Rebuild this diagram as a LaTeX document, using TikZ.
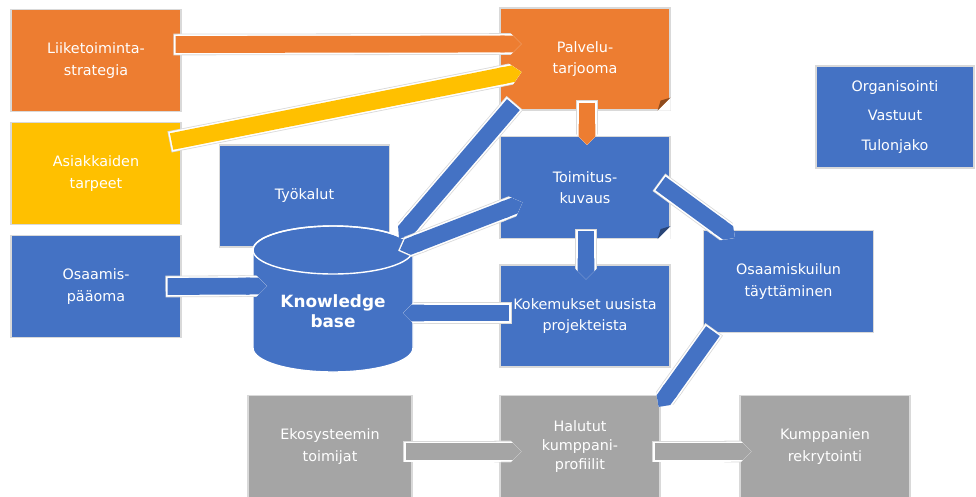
\documentclass[tikz,border=0pt]{standalone}
\usepackage{fontspec}
\usepackage{tikz}
\usetikzlibrary{positioning,
        shapes,
        arrows.meta}
\usepackage{xcolor}
\newfontfamily\boxfont{DejaVu Sans}
\definecolor{orangeC}{HTML}{ED7D31}
\definecolor{yellowC}{HTML}{FFC000}
\definecolor{blueC}{HTML}{4472C4}
\definecolor{greyC}{HTML}{A5A5A5}

\begin{document}
\begin{tikzpicture}[x=0.025cm, y=-0.025cm,
        box/.style={rectangle, draw=black!15, line width=0.8pt, minimum width=4.25cm, minimum height=2.55cm,
                text=white, align=center, font=\boxfont\fontsize{10.2}{15}\selectfont},
        barrow/.style={line width=0.42cm, -{Triangle Cap},
                preaction={draw=black!15, line width=0.54cm, shorten <=-1.5pt},
                preaction={draw=white, line width=0.50cm, shorten <=-1pt}}]
        \useasboundingbox (0,0) rectangle (976,496);

        \node [box, fill=orangeC] (liike) at (96,60.5) {Liiketoiminta-\\strategia};
        \node [box, fill=yellowC] (asiak) at (96,173.5) {Asiakkaiden\\tarpeet};
        \node [box, fill=blueC] (osaam) at (96,286.5) {Osaamis-\\pääoma};
        \node [box, fill=blueC] (tyoka) at (304.5,196) {Työkalut};

        \node [box, fill=orangeC] (palv) at (585,59) {Palvelu-\\tarjooma};
        \node [box, fill=blueC] (toim) at (585,187.5) {Toimitus-\\kuvaus};
        \node [box, fill=blueC] (koke) at (585,316) {Kokemukset uusista\\projekteista};
        \node [box, fill=blueC] (kuil) at (788.5,281.5) {Osaamiskuilun\\täyttäminen};
        \node [box, fill=blueC, minimum width=3.95cm] (organ) at (895,117) {Organisointi\\[6pt]Vastuut\\[6pt]Tulonjako};

        \node [box, fill=greyC, minimum width=4.1cm] (ekos) at (330,446.5) {Ekosysteemin\\toimijat};
        \node [box, fill=greyC, minimum width=4cm, font=\boxfont\fontsize{10.2}{13.5}\selectfont] (halu) at (580,446.5) {Halutut\\kumppani-\\profiilit};
        \node [box, fill=greyC] (kump) at (825,446.5) {Kumppanien\\rekrytointi};

        % folded corners
        \fill[white] ([shift={(-13,0)}]palv.south east) -- ([shift={(0,-13)}]palv.south east) -- (palv.south east) -- cycle;
        \fill[orangeC!60!black] ([shift={(-13,0)}]palv.south east) -- ([shift={(0,-13)}]palv.south east) -- ([shift={(-10,-10)}]palv.south east) -- cycle;
        \fill[white] ([shift={(-13,0)}]toim.south east) -- ([shift={(0,-13)}]toim.south east) -- (toim.south east) -- cycle;
        \fill[blueC!60!black] ([shift={(-13,0)}]toim.south east) -- ([shift={(0,-13)}]toim.south east) -- ([shift={(-10,-10)}]toim.south east) -- cycle;

        % knowledge base cylinder
        \filldraw[fill=blueC, draw=white, line width=1pt] (253,250) -- (253,348)
                arc[start angle=180, end angle=0, x radius=80, y radius=24] -- (413,250)
                arc[start angle=0, end angle=-180, x radius=80, y radius=24] -- cycle;
        \draw[white, line width=1pt] (333,250) ellipse[x radius=80, y radius=24];
        \node [text=white, align=center, font=\boxfont\bfseries\fontsize{12}{14}\selectfont] (kb) at (333,311) {Knowledge\\base};

        \draw[barrow, orangeC] ([shift={(-6,-16)}]liike.east) -- ([shift={(22,-15)}]palv.west);
        \draw[barrow, yellowC] ([shift={(-10,-32)}]asiak.east) -- ([shift={(22,13)}]palv.west);
        \draw[barrow, blueC] ([shift={(14,-6)}]palv.south west) -- ([shift={(66,-73)}]kb.center);
        \draw[barrow, blueC, {Triangle Cap}-{Triangle Cap}] ([shift={(67,-61)}]kb.center) -- ([shift={(23,15)}]toim.west);
        \draw[barrow, orangeC] ([shift={(2,-8)}]palv.south) -- ([shift={(2,9)}]toim.north);
        \draw[barrow, blueC] ([shift={(1,-8)}]toim.south) -- ([shift={(1,15)}]koke.north);
        \draw[barrow, blueC] ([shift={(10,-3)}]koke.west) -- ([shift={(70,2)}]kb.center);
        \draw[barrow, blueC] ([shift={(-14,0)}]osaam.east) -- ([shift={(-66,-25)}]kb.center);
        \draw[barrow, blueC] ([shift={(-10,-4)}]toim.east) -- ([shift={(32,8)}]kuil.north west);
        \draw[barrow, blueC] ([shift={(10,-2)}]kuil.south west) -- ([shift={(-2,12)}]halu.north east);
        \draw[barrow, greyC] ([shift={(-7,5)}]ekos.east) -- ([shift={(22,5)}]halu.west);
        \draw[barrow, greyC] ([shift={(-6,5)}]halu.east) -- ([shift={(12,5)}]kump.west);
\end{tikzpicture}
\end{document}
